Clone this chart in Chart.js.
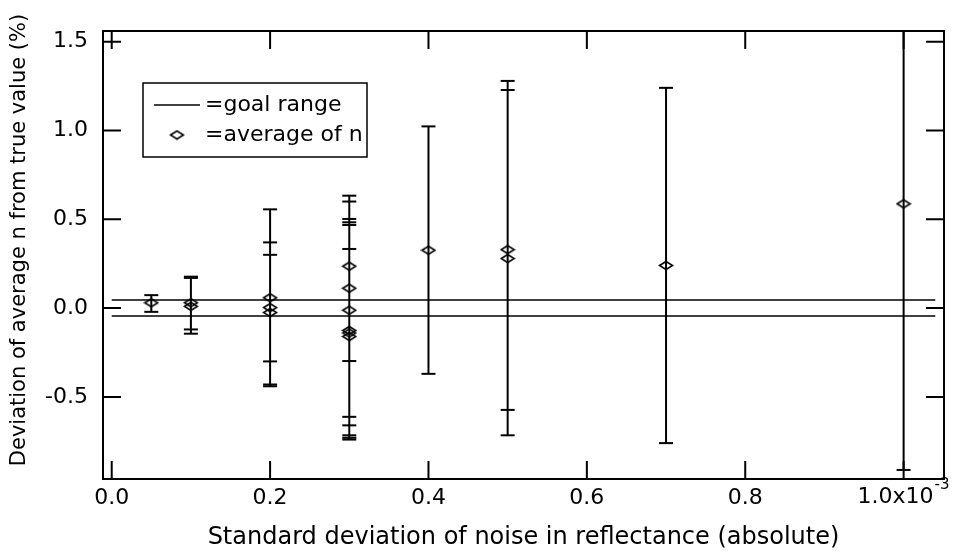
<!DOCTYPE html>
<html>
<head>
<meta charset="utf-8">
<script src="https://cdn.jsdelivr.net/npm/chart.js@4.4.0/dist/chart.umd.min.js"></script>
<style>
    html, body { margin: 0; padding: 0; background: #fff; }
    #wrap { width: 953px; height: 552px; }
</style>
</head>
<body>
<div id="wrap"><canvas id="noise-canvas"></canvas></div>
<script>
// noise std (units of 1e-3), one entry per run
const noiseLevels = [0.05, 0.1, 0.1, 0.2, 0.2, 0.2, 0.3, 0.3, 0.3, 0.3, 0.3, 0.3, 0.4, 0.5, 0.5, 0.7, 1.0];
const avgDeviation = [0.03, 0.03, 0.01, 0.058, 0.003, -0.025, 0.236, 0.112, -0.012, -0.126, -0.14, -0.16, 0.326, 0.329, 0.279, 0.24, 0.587];
const barHigh = [0.073, 0.177, 0.17, 0.556, 0.37, 0.3, 0.6, 0.633, 0.333, 0.468, 0.502, 0.483, 1.023, 1.228, 1.279, 1.24, 2.09];
const barLow = [-0.021, -0.12, -0.144, -0.44, -0.43, -0.3, -0.73, -0.716, -0.298, -0.66, -0.74, -0.612, -0.37, -0.573, -0.716, -0.76, -0.911];

const goalRange = [0.045, -0.045];
const goalSpan = [0, 1.04];

const xTickValues = [0, 0.2, 0.4, 0.6, 0.8, 1.0];
const yTickValues = [-0.5, 0, 0.5, 1.0, 1.5];

const FONT = "'DejaVu Sans', 'Liberation Sans', sans-serif";
Chart.defaults.font.family = FONT;
Chart.defaults.font.size = 22;
Chart.defaults.color = "#000";

function makeDiamond() {
    const c = document.createElement("canvas");
    c.width = 16;
    c.height = 11;
    const ctx = c.getContext("2d");
    ctx.strokeStyle = "#000";
    ctx.lineWidth = 1.5;
    ctx.beginPath();
    ctx.moveTo(1.5, 5.5);
    ctx.lineTo(8, 1.5);
    ctx.lineTo(14.5, 5.5);
    ctx.lineTo(8, 9.5);
    ctx.closePath();
    ctx.stroke();
    return c;
}
const diamond = makeDiamond();

const barSegments = [];
const barCaps = [];
noiseLevels.forEach((x, i) => {
    barSegments.push({ x: x, y: barLow[i] }, { x: x, y: barHigh[i] }, { x: x, y: null });
    barCaps.push({ x: x, y: barLow[i] }, { x: x, y: barHigh[i] });
});

const goalDatasets = goalRange.map((g) => ({
    type: "line",
    data: goalSpan.map((x) => ({ x: x, y: g })),
    borderColor: "#000",
    borderWidth: 1.5,
    pointRadius: 0,
}));

// frame, inward ticks on all four sides, last x label with exponent, y title, legend box
const framePlugin = {
    id: "frame",
    afterDraw(chart) {
        const { ctx, chartArea: a, scales } = chart;
        const tl = 18;
        ctx.save();
        ctx.strokeStyle = "#000";
        ctx.fillStyle = "#000";
        ctx.lineWidth = 2;
        ctx.strokeRect(a.left, a.top, a.right - a.left, a.bottom - a.top);
        ctx.beginPath();
        xTickValues.forEach((v) => {
            const px = scales.x.getPixelForValue(v);
            ctx.moveTo(px, a.bottom);
            ctx.lineTo(px, a.bottom - tl);
            ctx.moveTo(px, a.top);
            ctx.lineTo(px, a.top + tl);
        });
        yTickValues.forEach((v) => {
            const py = scales.y.getPixelForValue(v);
            ctx.moveTo(a.left, py);
            ctx.lineTo(a.left + tl, py);
            ctx.moveTo(a.right, py);
            ctx.lineTo(a.right - tl, py);
        });
        ctx.stroke();

        // "1.0x10^-3" label, set a bit left so the exponent fits
        const px1 = scales.x.getPixelForValue(1.0);
        ctx.font = "22px " + FONT;
        ctx.textAlign = "right";
        ctx.textBaseline = "middle";
        ctx.fillText("1.0x10", px1 + 30, a.bottom + 18);
        ctx.font = "15px " + FONT;
        ctx.textAlign = "left";
        ctx.fillText("-3", px1 + 31, a.bottom + 6);

        // y axis title
        ctx.save();
        ctx.translate(20, (a.top + a.bottom) / 2 - 15);
        ctx.rotate(-Math.PI / 2);
        ctx.font = "21px " + FONT;
        ctx.textAlign = "center";
        ctx.fillText("Deviation of average n from true value (%)", 0, 0);
        ctx.restore();

        // legend
        const bx = a.left + 40;
        const by = a.top + 52;
        ctx.lineWidth = 1.5;
        ctx.strokeRect(bx, by, 224, 74);
        ctx.beginPath();
        ctx.moveTo(bx + 11, by + 22);
        ctx.lineTo(bx + 57, by + 22);
        ctx.stroke();
        ctx.drawImage(diamond, bx + 34 - diamond.width / 2, by + 52 - diamond.height / 2);
        ctx.font = "22px " + FONT;
        ctx.textAlign = "left";
        ctx.textBaseline = "middle";
        ctx.fillText("=goal range", bx + 62, by + 22);
        ctx.fillText("=average of n", bx + 62, by + 52);
        ctx.restore();
    },
};

const config = {
    type: "scatter",
    data: {
        datasets: [
            ...goalDatasets,
            {
                type: "line",
                data: barSegments,
                borderColor: "#000",
                borderWidth: 2,
                pointRadius: 0,
                spanGaps: false,
            },
            {
                data: barCaps,
                pointStyle: "line",
                pointRadius: 7,
                borderColor: "#000",
                borderWidth: 2,
            },
            {
                data: noiseLevels.map((x, i) => ({ x: x, y: avgDeviation[i] })),
                pointStyle: diamond,
            },
        ],
    },
    options: {
        responsive: true,
        maintainAspectRatio: false,
        animation: false,
        layout: { padding: { top: 31, right: 8, left: 0, bottom: 0 } },
        plugins: {
            legend: { display: false },
            tooltip: { enabled: false },
        },
        scales: {
            x: {
                type: "linear",
                min: -0.011,
                max: 1.051,
                grid: { display: false, drawTicks: false },
                border: { display: false },
                afterBuildTicks: (s) => {
                    s.ticks = xTickValues.map((v) => ({ value: v }));
                },
                afterFit: (s) => {
                    s.height = 73;
                },
                ticks: {
                    padding: 6,
                    maxRotation: 0,
                    autoSkip: false,
                    callback: (v) => (v === 1 ? "" : Number(v).toFixed(1)),
                },
                title: {
                    display: true,
                    text: "Standard deviation of noise in reflectance (absolute)",
                    font: { size: 24 },
                    padding: { top: 2, bottom: 0 },
                },
            },
            y: {
                min: -0.962,
                max: 1.56,
                grid: { display: false, drawTicks: false },
                border: { display: false },
                afterBuildTicks: (s) => {
                    s.ticks = yTickValues.map((v) => ({ value: v }));
                },
                afterFit: (s) => {
                    s.width = 103;
                },
                ticks: {
                    padding: 15,
                    callback: (v) => Number(v).toFixed(1),
                },
            },
        },
    },
    plugins: [framePlugin],
};

new Chart(document.querySelector("#noise-canvas"), config);
</script>
</body>
</html>
